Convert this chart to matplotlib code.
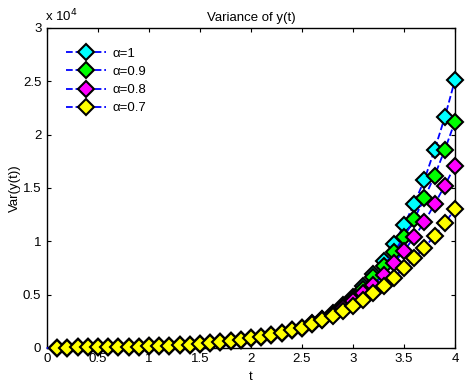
import numpy as np
import matplotlib.pyplot as plt

plt.rcParams['font.family'] = ['Liberation Sans', 'DejaVu Sans']

# time points (t = 0 ... 4, step 0.1)
t = np.round(np.arange(0, 4.01, 0.1), 1)

# common low part (x 1e4), t = 0 ... 2.5
low = [0.0, 0.002, 0.003, 0.004, 0.005, 0.006, 0.007, 0.008, 0.010, 0.012, 0.014,
       0.017, 0.020, 0.025, 0.030, 0.037, 0.045, 0.054, 0.064, 0.076, 0.089,
       0.104, 0.122, 0.142, 0.164, 0.187]

# t = 2.6 ... 4.0 (x 1e4)
high_a10 = [0.23, 0.27, 0.33, 0.40, 0.48, 0.58, 0.69, 0.818, 0.975, 1.15,
            1.35, 1.575, 1.856, 2.16, 2.51]
high_a09 = [0.228, 0.268, 0.32, 0.385, 0.46, 0.55, 0.663, 0.768, 0.897, 1.037,
            1.206, 1.403, 1.612, 1.856, 2.12]
high_a08 = [0.226, 0.265, 0.31, 0.37, 0.44, 0.518, 0.59, 0.684, 0.794, 0.909,
            1.037, 1.181, 1.347, 1.52, 1.709]
high_a07 = [0.224, 0.262, 0.303, 0.347, 0.397, 0.45, 0.513, 0.584, 0.659, 0.747,
            0.84, 0.94, 1.05, 1.169, 1.30]

labels = ['\u03b1=1', '\u03b1=0.9', '\u03b1=0.8', '\u03b1=0.7']
colors = ['cyan', 'lime', 'magenta', 'yellow']
series = [high_a10, high_a09, high_a08, high_a07]

fs = 9.5

fig = plt.figure(figsize=(4.69, 3.87), dpi=100)
ax = fig.add_axes([0.100, 0.101, 0.870, 0.827])

for lab, col, hi in zip(labels, colors, series):
    y = np.array(low + hi) * 1e4
    ax.plot(t, y, '--', color='blue', lw=1.3, marker='D', markersize=7.8,
            markerfacecolor=col, markeredgecolor='black', markeredgewidth=1.5,
            markevery=slice(1, None), label=lab, clip_on=False, zorder=3)

ax.set_xlim(0, 4)
ax.set_ylim(0, 3e4)
ax.set_xticks(np.arange(0, 4.01, 0.5))
ax.set_xticklabels(['0', '0.5', '1', '1.5', '2', '2.5', '3', '3.5', '4'])
ax.set_yticks(np.arange(0, 3.01e4, 0.5e4))
ax.set_yticklabels(['0', '0.5', '1', '1.5', '2', '2.5', '3'])
ax.tick_params(direction='in', top=True, right=True, labelsize=fs, length=3, pad=4)
for s in ax.spines.values():
    s.set_linewidth(1.0)

ax.text(-0.005, 1.012, r'x 10$^4$', transform=ax.transAxes, fontsize=fs,
        ha='left', va='bottom')
ax.set_title('Variance of y(t)', fontsize=fs, pad=5)
ax.set_xlabel('t', fontsize=fs, labelpad=4)
ax.set_ylabel('Var(y(t))', fontsize=fs, labelpad=1.5)

leg = ax.legend(loc='upper left', frameon=False, fontsize=fs, handlelength=3.0,
                labelspacing=0.45, handletextpad=0.5, borderaxespad=0.0,
                bbox_to_anchor=(0.035, 0.955))

fig.savefig('out.png', dpi=100)
